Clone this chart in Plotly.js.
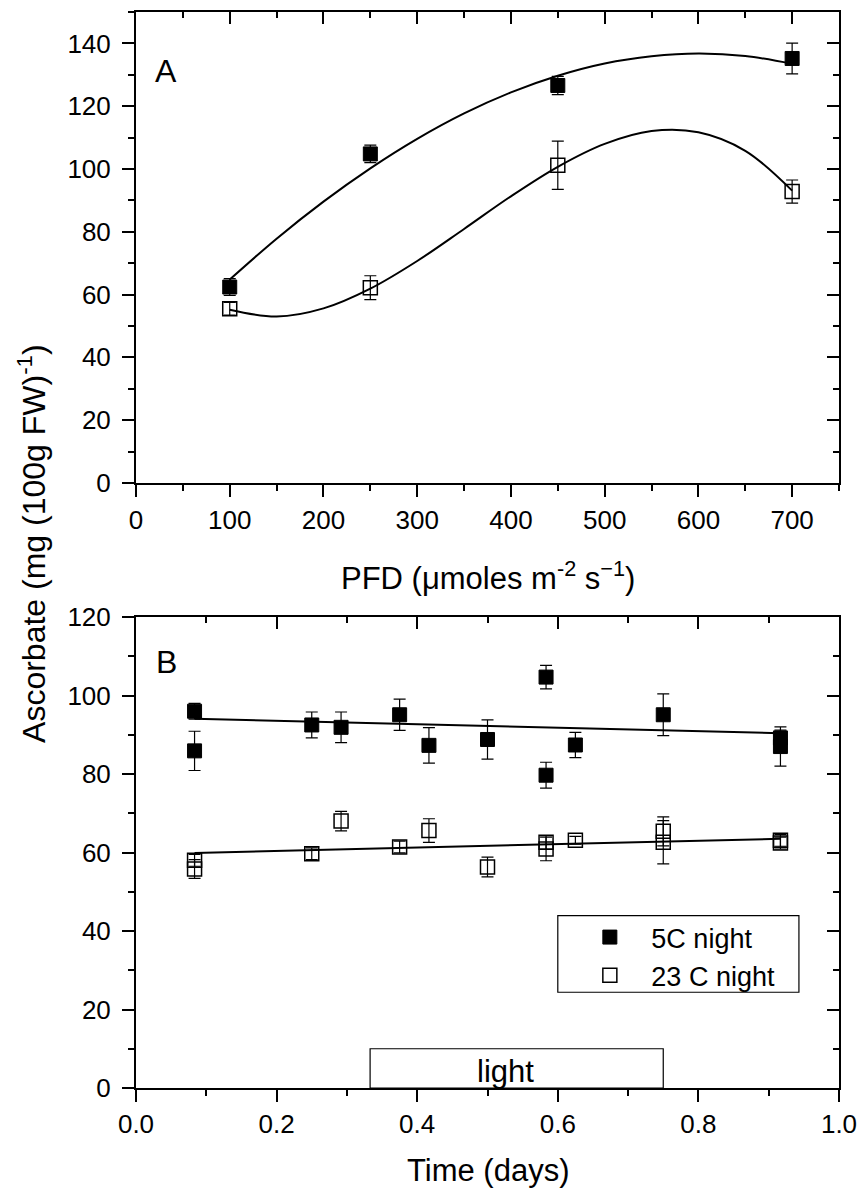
<!DOCTYPE html>
<html>
<head>
<meta charset="utf-8">
<script src="https://cdn.plot.ly/plotly-3.0.1.min.js"></script>
<style>html,body{margin:0;padding:0;background:#fff;}#chart{width:858px;height:1191px;}</style>
</head>
<body>
<div id="chart"></div>
<script>
// ---- Panel A data (PFD vs ascorbate) ----
const pfd = [100, 250, 450, 700];
const asc5A = [62.4, 104.8, 126.6, 135.2];
const err5A = [2.7, 2.8, 2.9, 4.9];
const asc23A = [55.5, 62.2, 101.2, 92.8];
const err23A = [2.0, 3.8, 7.7, 3.7];
// fitted curves
const fitPfd = [100, 150, 200, 250, 300, 350, 400, 450, 500, 550, 600, 650, 700];
const fit5A = [64.8, 77.8, 89.6, 100.2, 109.6, 117.7, 124.4, 129.7, 133.6, 135.9, 136.8, 136.0, 133.5];
const fit23A = [55.2, 53.0, 55.6, 61.9, 70.7, 80.9, 91.3, 100.7, 108.0, 112.1, 111.7, 105.8, 93.1];

// ---- Panel B data (time vs ascorbate) ----
const time5B = [0.0833, 0.0833, 0.25, 0.2917, 0.375, 0.4167, 0.5, 0.5833, 0.5833, 0.625, 0.75, 0.9167, 0.9167];
const asc5B = [96.0, 85.9, 92.5, 91.9, 95.1, 87.3, 88.8, 104.7, 79.7, 87.4, 95.1, 89.2, 87.0];
const err5B = [2.0, 5.0, 3.3, 3.9, 4.0, 4.5, 5.0, 3.0, 3.3, 3.2, 5.3, 2.0, 5.0];
const time23B = [0.0833, 0.0833, 0.25, 0.2917, 0.375, 0.4167, 0.5, 0.5833, 0.5833, 0.625, 0.75, 0.75, 0.9167, 0.9167];
const asc23B = [58.0, 55.8, 59.7, 68.0, 61.4, 65.6, 56.3, 62.6, 60.9, 63.1, 65.4, 62.6, 63.1, 62.4];
const err23B = [1.5, 2.4, 1.5, 2.5, 1.5, 3.0, 2.5, 1.7, 3.0, 1.0, 3.7, 5.5, 1.5, 1.5];
// linear trends
const trendTime = [0.0833, 0.9167];
const trend5B = [94.1, 90.4];
const trend23B = [59.9, 63.5];
// light period bar
const lightPeriod = [0.333, 0.75];
const lightHeight = 10;

const seriesNames = ['5C night', '23 C night'];
const FONT = 'Liberation Sans, Arial, Helvetica, sans-serif';

const errStyle = (arr) => ({type: 'data', array: arr, visible: true, color: '#000', thickness: 1.2, width: 6});
const filledMarker = {symbol: 'square', size: 14, color: '#000', line: {color: '#000', width: 1}};
const openMarker = {symbol: 'square-open', size: 14, color: '#000', line: {color: '#000', width: 1.5}};

const traces = [
  {x: fitPfd, y: fit5A, mode: 'lines', line: {color: '#000', width: 2, shape: 'spline', smoothing: 1}, xaxis: 'x', yaxis: 'y', showlegend: false, hoverinfo: 'skip'},
  {x: fitPfd, y: fit23A, mode: 'lines', line: {color: '#000', width: 2, shape: 'spline', smoothing: 1}, xaxis: 'x', yaxis: 'y', showlegend: false, hoverinfo: 'skip'},
  {x: pfd, y: asc5A, mode: 'markers', marker: filledMarker, error_y: errStyle(err5A), xaxis: 'x', yaxis: 'y', showlegend: false},
  {x: pfd, y: asc23A, mode: 'markers', marker: openMarker, error_y: errStyle(err23A), xaxis: 'x', yaxis: 'y', showlegend: false},
  {x: trendTime, y: trend5B, mode: 'lines', line: {color: '#000', width: 2}, xaxis: 'x2', yaxis: 'y2', showlegend: false, hoverinfo: 'skip'},
  {x: trendTime, y: trend23B, mode: 'lines', line: {color: '#000', width: 2}, xaxis: 'x2', yaxis: 'y2', showlegend: false, hoverinfo: 'skip'},
  {x: time5B, y: asc5B, name: seriesNames[0], mode: 'markers', marker: filledMarker, error_y: errStyle(err5B), xaxis: 'x2', yaxis: 'y2'},
  {x: time23B, y: asc23B, name: seriesNames[1], mode: 'markers', marker: openMarker, error_y: errStyle(err23B), xaxis: 'x2', yaxis: 'y2'},
  // helpers so mirror axes are drawn
  {x: [], y: [], xaxis: 'x3', yaxis: 'y', showlegend: false, hoverinfo: 'skip'},
  {x: [], y: [], xaxis: 'x', yaxis: 'y3', showlegend: false, hoverinfo: 'skip'},
  {x: [], y: [], xaxis: 'x4', yaxis: 'y2', showlegend: false, hoverinfo: 'skip'},
  {x: [], y: [], xaxis: 'x2', yaxis: 'y4', showlegend: false, hoverinfo: 'skip'}
];

const tickFont = {family: FONT, size: 26, color: '#000'};
function mainAxis(extra) {
  return Object.assign({
    showline: true, linecolor: '#000', linewidth: 2, mirror: false,
    ticks: 'outside', ticklen: 12, tickwidth: 2, tickcolor: '#000',
    showgrid: false, zeroline: false, tickfont: tickFont, ticklabelstandoff: 6,
    fixedrange: true
  }, extra);
}
function mirrorAxis(extra) {
  return Object.assign({
    showline: true, linecolor: '#000', linewidth: 2,
    ticks: 'inside', ticklen: 12, tickwidth: 2, tickcolor: '#000',
    showgrid: false, zeroline: false, showticklabels: false, fixedrange: true
  }, extra);
}

const topDomain = [0.5623, 1];
const botDomain = [0, 0.4377];

const layout = {
  width: 858, height: 1191,
  margin: {l: 136, r: 19, t: 12, b: 103, pad: 0},
  paper_bgcolor: '#fff', plot_bgcolor: '#fff',
  font: {family: FONT, color: '#000'},
  showlegend: true,
  xaxis: mainAxis({domain: [0, 1], anchor: 'y', range: [0, 750], tick0: 0, dtick: 100, ticklabelstandoff: 1,
    minor: {dtick: 50, ticks: 'outside', ticklen: 6, tickwidth: 2, tickcolor: '#000', showgrid: false}}),
  yaxis: mainAxis({domain: topDomain, anchor: 'x', range: [0, 150], tick0: 0, dtick: 20,
    minor: {dtick: 10, ticks: 'outside', ticklen: 6, tickwidth: 2, tickcolor: '#000', showgrid: false}}),
  xaxis2: mainAxis({domain: [0, 1], anchor: 'y2', range: [0, 1], tick0: 0, dtick: 0.2, tickformat: '.1f', ticklabelstandoff: 0,
    minor: {dtick: 0.1, ticks: 'outside', ticklen: 6, tickwidth: 2, tickcolor: '#000', showgrid: false}}),
  yaxis2: mainAxis({domain: botDomain, anchor: 'x2', range: [0, 120], tick0: 0, dtick: 20,
    minor: {dtick: 10, ticks: 'outside', ticklen: 6, tickwidth: 2, tickcolor: '#000', showgrid: false}}),
  xaxis3: mirrorAxis({overlaying: 'x', side: 'top', anchor: 'y', range: [0, 750], tick0: 0, dtick: 100,
    minor: {dtick: 50, ticks: 'inside', ticklen: 6, tickwidth: 2, tickcolor: '#000', showgrid: false}}),
  yaxis3: mirrorAxis({overlaying: 'y', side: 'right', anchor: 'x', range: [0, 150], tick0: 0, dtick: 20,
    minor: {dtick: 10, ticks: 'inside', ticklen: 6, tickwidth: 2, tickcolor: '#000', showgrid: false}}),
  xaxis4: mirrorAxis({overlaying: 'x2', side: 'top', anchor: 'y2', range: [0, 1], tick0: 0, dtick: 0.2,
    minor: {dtick: 0.1, ticks: 'inside', ticklen: 6, tickwidth: 2, tickcolor: '#000', showgrid: false}}),
  yaxis4: mirrorAxis({overlaying: 'y2', side: 'right', anchor: 'x2', range: [0, 120], tick0: 0, dtick: 20,
    minor: {dtick: 10, ticks: 'inside', ticklen: 6, tickwidth: 2, tickcolor: '#000', showgrid: false}}),
  legend: {
    x: 0.615, xanchor: 'left', xref: 'paper',
    y: 0.1626, yanchor: 'top', yref: 'paper',
    bgcolor: 'rgba(0,0,0,0)', borderwidth: 0,
    font: {family: FONT, size: 27, color: '#000'},
    itemwidth: 73, tracegroupgap: 0
  },
  shapes: [
    {type: 'rect', xref: 'x2', yref: 'y2', x0: lightPeriod[0], x1: lightPeriod[1], y0: 0, y1: lightHeight,
     line: {color: '#000', width: 1.2}, fillcolor: 'rgba(0,0,0,0)', layer: 'above'},
    {type: 'rect', xref: 'x2', yref: 'y2', x0: 0.600, x1: 0.943, y0: 24.4, y1: 43.9,
     line: {color: '#000', width: 1.2}, fillcolor: 'rgba(0,0,0,0)', layer: 'above'}
  ],
  annotations: [
    {text: 'A', xref: 'x', yref: 'y', x: 32, y: 131.3, showarrow: false, xanchor: 'center', yanchor: 'middle',
     font: {family: FONT, size: 32, color: '#000'}},
    {text: 'B', xref: 'x2', yref: 'y2', x: 0.043, y: 108.5, showarrow: false, xanchor: 'center', yanchor: 'middle',
     font: {family: FONT, size: 32, color: '#000'}},
    {text: 'light', xref: 'x2', yref: 'y2', x: 0.526, y: 4.2, showarrow: false, xanchor: 'center', yanchor: 'middle',
     font: {family: FONT, size: 31, color: '#000'}},
    {text: 'PFD (\u03bcmoles m<sup>-2</sup> s<sup>\u22121</sup>)', xref: 'paper', yref: 'paper', x: 0.5, y: 0.4758,
     showarrow: false, xanchor: 'center', yanchor: 'middle', font: {family: FONT, size: 31, color: '#000'}},
    {text: 'Time (days)', xref: 'paper', yref: 'paper', x: 0.5, y: -0.0765,
     showarrow: false, xanchor: 'center', yanchor: 'middle', font: {family: FONT, size: 31, color: '#000'}},
    {text: 'Ascorbate (mg (100g FW)<sup>-1</sup>)', xref: 'paper', yref: 'paper', x: -0.148, y: 0.5065,
     showarrow: false, xanchor: 'center', yanchor: 'middle', textangle: -90, font: {family: FONT, size: 32, color: '#000'}}
  ]
};

Plotly.newPlot('chart', traces, layout, {staticPlot: true, displayModeBar: false});
</script>
</body>
</html>
